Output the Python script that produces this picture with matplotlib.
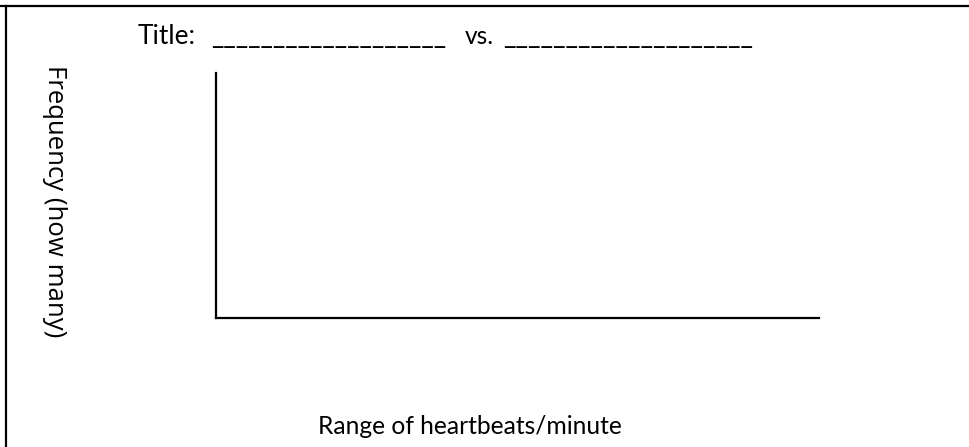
import matplotlib
matplotlib.use("Agg")
import matplotlib.pyplot as plt
from matplotlib.lines import Line2D
from matplotlib import font_manager

# ---- content ----
title_prefix = "Title:"
title_mid = "vs."
blank_char = "_"
x_label = "Range of heartbeats/minute"
y_label = "Frequency (how many)"

W, H = 969, 447
fig = plt.figure(figsize=(W / 100, H / 100), dpi=100)
fig.patch.set_facecolor("white")

def fam(names):
    avail = {f.name for f in font_manager.fontManager.ttflist}
    for n in names:
        if n in avail:
            return n
    return "DejaVu Sans"

main_font = fam(["Lato", "Open Sans", "DejaVu Sans"])
ylab_font = fam(["Open Sans", "Noto Sans", "DejaVu Sans"])

def px(x, y):
    return x / W, 1 - y / H

# empty axes: left and bottom lines only
ax = fig.add_axes([216 / W, 1 - 318 / H, (819 - 216) / W, (318 - 73) / H])
ax.set_xlim(0, 1)
ax.set_ylim(0, 1)
for s in ("top", "right"):
    ax.spines[s].set_visible(False)
for s in ("left", "bottom"):
    ax.spines[s].set_linewidth(1.6)
    ax.spines[s].set_color("black")
ax.set_xticks([])
ax.set_yticks([])
ax.patch.set_alpha(0)

# outer page border (top and left)
fig.add_artist(Line2D([0, 1], [1 - 6 / H] * 2, transform=fig.transFigure, color="black", lw=1.6))
fig.add_artist(Line2D([6 / W] * 2, [0, 1 - 6 / H], transform=fig.transFigure, color="black", lw=1.6))

renderer = fig.canvas.get_renderer()

def width_of(s, size, family):
    t = fig.text(0, 0, s, fontsize=size, family=family)
    w = t.get_window_extent(renderer).width
    t.remove()
    return w

def fit_size(s, target, family, size0=20):
    return size0 * target / width_of(s, size0, family)

title_size = fit_size(title_prefix, 196 - 138, main_font)

def put(s, x0, ybase, size, family):
    return fig.text(*px(x0, ybase), s, fontsize=size, family=family, va="baseline", ha="left")

def blank(x0, x1, ybase):
    uw = width_of(blank_char, title_size, main_font)
    n = max(1, round((x1 - x0) / uw))
    s = blank_char * n
    put(s, x0, ybase, fit_size(s, x1 - x0, main_font), main_font)

put(title_prefix, 138, 44, title_size, main_font)
blank(211, 444, 44)
put(title_mid, 465, 44, fit_size(title_mid, 494 - 465, main_font), main_font)
blank(503, 750, 44)

put(x_label, 318, 434, fit_size(x_label, 623 - 318, main_font), main_font)

# y label, rotated to read top to bottom
t = fig.text(*px(54, 201), y_label, fontsize=18, family=ylab_font, rotation=-90,
             ha="center", va="center")
h = t.get_window_extent(renderer).height
t.set_fontsize(18 * (337 - 65) / h)

fig.savefig("out.png", dpi=100, facecolor="white")
